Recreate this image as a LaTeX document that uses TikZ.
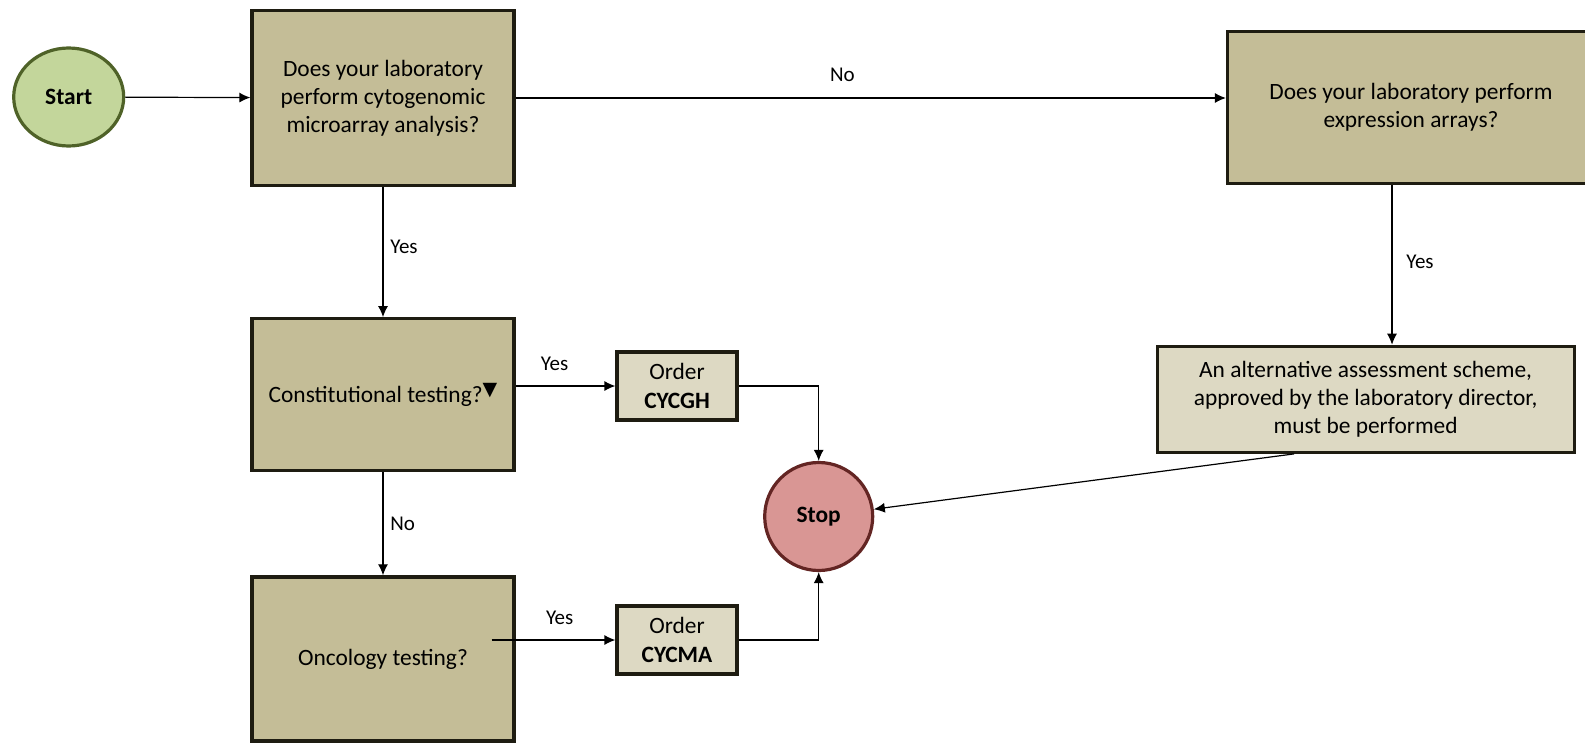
\documentclass[tikz,border=0pt]{standalone}
\usepackage{fontspec}
\setmainfont{Carlito}
\newfontfamily\symfont{DejaVu Sans}
\usetikzlibrary{shapes,arrows.meta}
\usetikzlibrary{positioning,calc}

\definecolor{boxtan}{RGB}{196,189,151}
\definecolor{boxlight}{RGB}{221,217,195}
\definecolor{boxline}{RGB}{30,28,17}
\definecolor{startfill}{RGB}{195,214,155}
\definecolor{startline}{RGB}{79,98,40}
\definecolor{stopfill}{RGB}{217,150,148}
\definecolor{stopline}{RGB}{99,37,35}

\begin{document}
\begin{tikzpicture}[x=0.5pt, y=-0.5pt, align=center, >={Latex[length=5.5pt,width=5pt]}]

%local definitions
\tikzstyle{Question} = [draw=boxline, line width=1.6pt, fill=boxtan, rectangle, minimum width=131pt, font=\fontsize{11.7}{14}\selectfont]
\tikzstyle{Order} = [draw=boxline, line width=1.6pt, fill=boxlight, rectangle, minimum width=60pt, minimum height=34pt, inner sep=1pt, font=\fontsize{11.7}{14.5}\selectfont]
\tikzstyle{Scheme} = [draw=boxline, line width=1.6pt, fill=boxlight, rectangle, minimum width=208.5pt, minimum height=53pt, inner sep=1pt, font=\fontsize{11.7}{13.8}\selectfont]
\tikzstyle{StartCircle} = [draw=startline, line width=1.6pt, fill=startfill, ellipse, minimum width=55pt, minimum height=49pt, font=\fontsize{11.7}{14}\selectfont\bfseries]
\tikzstyle{StopCircle} = [draw=stopline, line width=1.6pt, fill=stopfill, circle, minimum size=54pt, font=\fontsize{11.7}{14}\selectfont\bfseries]
\tikzstyle{Flow} = [->, line width=0.6pt]
\tikzstyle{EdgeText} = [font=\fontsize{10.5}{12}\selectfont]

\clip (0,0) rectangle (1585,744);

%flow components
	\node [StartCircle] (start) at (68.7,97) {Start};
	\node [Question, minimum height=87.5pt] (q1) at (383,98) {Does your laboratory\\perform cytogenomic\\microarray analysis?};
	\node [Question, minimum width=183.5pt, minimum height=76pt] (q2) at (1411,107.6) {Does your laboratory perform\\expression arrays?};
	\node [Question, minimum height=76pt, below=65pt of q1] (q3) {Constitutional testing?\raisebox{3.3pt}{\symfont\fontsize{9.5}{9.5}\selectfont ▼}};
	\node [Question, minimum height=82pt, below=51.5pt of q3] (q4) {Oncology testing?};

	\node [Order] (cycgh) at (677,386) {Order\\\textbf{CYCGH}};
	\node [Order] (cycma) at (677,640) {Order\\\textbf{CYCMA}};

	\node [StopCircle] (stop) at (818.7,516.5) {Stop};
	\node [Scheme] (alt) at (1365.6,399.3) {An alternative assessment scheme,\\approved by the laboratory director,\\must be performed};

%connections
	\draw [Flow] (start) -- (q1);
	\draw [Flow] (q1) -- node[EdgeText, above=4.5pt, pos=0.46]{No} (q1 -| q2.west);
	\draw [Flow] (q1) -- node[EdgeText, right, pos=0.46]{Yes} (q3);
	\draw [Flow] (q3) -- node[EdgeText, right, pos=0.5]{No} (q4);

	\draw [Flow] (q3.east |- cycgh) -- node[EdgeText, above=4pt, pos=0.39]{Yes} (cycgh);
	\draw [Flow] ([xshift=-12pt]q4.east |- cycma) -- node[EdgeText, above=4pt, pos=0.55]{Yes} (cycma);

	%to stop
	\draw [Flow] (cycgh) -| (stop);
	\draw [Flow] (cycma) -| (stop);

	\draw [Flow] ([xshift=-9.5pt]q2.south) -- node[EdgeText, right=3.5pt, pos=0.48]{Yes} ([xshift=-9.5pt]q2.south |- alt.north);
	\draw [Flow] ([xshift=-35.8pt]alt.south) -- (stop);

\end{tikzpicture}
\end{document}
